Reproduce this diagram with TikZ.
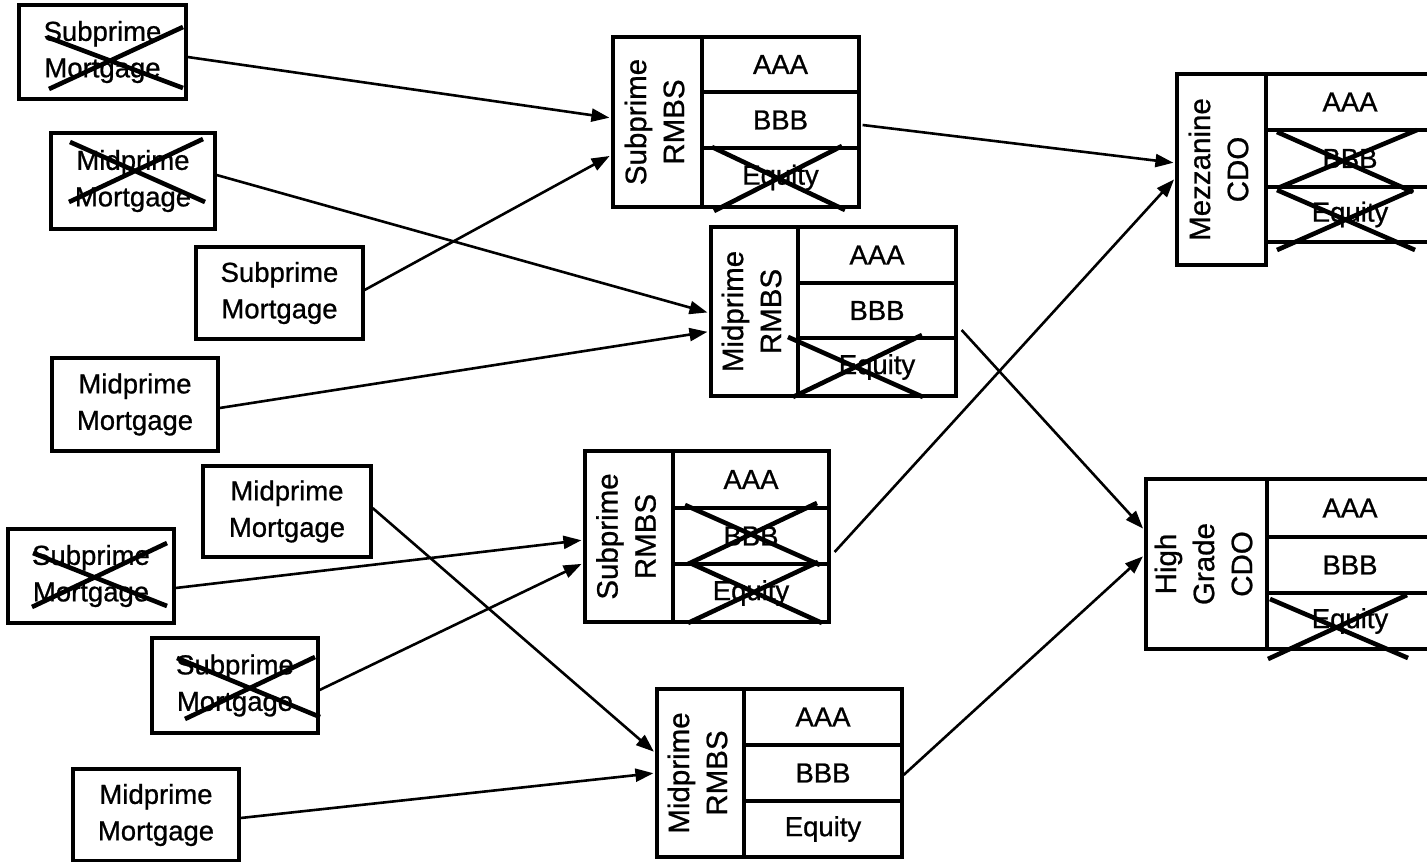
\documentclass[tikz,border=0pt]{standalone}
\usepackage{fontspec}
\setmainfont{Liberation Sans}[FakeBold=0.8]
\usepackage{graphicx}
\usetikzlibrary{arrows.meta}
\begin{document}
\begin{tikzpicture}[x=1pt,y=-1pt,
  box/.style={draw, line width=3.2pt, inner sep=0pt, align=center, font=\fontsize{27.5}{36.5}\selectfont},
  xline/.style={line width=4.6pt},
  arr/.style={line width=2.6pt, -{Triangle[length=18pt,width=13pt]}, shorten >=2pt}]
\useasboundingbox (0,0) rectangle (1427,862);
\clip (0,0) rectangle (1427,862);
\fill[white] (0,0) rectangle (1427,862);
\newcommand\vlab[1]{\rotatebox{90}{\fontsize{29.5}{38}\selectfont\begin{tabular}{@{}c@{}}#1\end{tabular}}}
% ---------- mortgages ----------
\node[box, minimum width=167pt, minimum height=94pt] (L1) at (102.5,52) {Subprime\\Mortgage};
\node[box, minimum width=164pt, minimum height=96pt] (L2) at (133,181) {Midprime\\Mortgage};
\node[box, minimum width=167pt, minimum height=92pt] (L3) at (279.5,293) {Subprime\\Mortgage};
\node[box, minimum width=166pt, minimum height=93pt] (L4) at (135,404.5) {Midprime\\Mortgage};
\node[box, minimum width=168pt, minimum height=91pt] (L5) at (287,511.5) {Midprime\\Mortgage};
\node[box, minimum width=166pt, minimum height=94pt] (L6) at (91,576) {Subprime\\Mortgage};
\node[box, minimum width=166pt, minimum height=95pt] (L7) at (235,685.5) {Subprime\\Mortgage};
\node[box, minimum width=166pt, minimum height=92pt] (L8) at (156,815) {Midprime\\Mortgage};
% ---------- RMBS A ----------
\node[box, minimum width=89pt, minimum height=170pt] (Al) at (657.5,122) {\vlab{Subprime\\RMBS}};
\node[box, minimum width=157pt, minimum height=55pt] (A1) at (780.5,64.5) {AAA};
\node[box, minimum width=157pt, minimum height=56pt] (A2) at (780.5,120) {BBB};
\node[box, minimum width=157pt, minimum height=59pt] (A3) at (780.5,177.5) {Equity};
% ---------- RMBS B ----------
\node[box, minimum width=87pt, minimum height=169pt] (Bl) at (754.5,311.5) {\vlab{Midprime\\RMBS}};
\node[box, minimum width=158pt, minimum height=56pt] (B1) at (877,255) {AAA};
\node[box, minimum width=158pt, minimum height=55pt] (B2) at (877,310.5) {BBB};
\node[box, minimum width=158pt, minimum height=58pt] (B3) at (877,367) {Equity};
% ---------- RMBS C ----------
\node[box, minimum width=88pt, minimum height=171pt] (Cl) at (629,536.5) {\vlab{Subprime\\RMBS}};
\node[box, minimum width=156pt, minimum height=57pt] (C1) at (751,479.5) {AAA};
\node[box, minimum width=156pt, minimum height=56pt] (C2) at (751,536) {BBB};
\node[box, minimum width=156pt, minimum height=58pt] (C3) at (751,593) {Equity};
% ---------- RMBS D ----------
\node[box, minimum width=87pt, minimum height=168pt] (Dl) at (700.5,773) {\vlab{Midprime\\RMBS}};
\node[box, minimum width=158pt, minimum height=56pt] (D1) at (823,717) {AAA};
\node[box, minimum width=158pt, minimum height=56pt] (D2) at (823,773) {BBB};
\node[box, minimum width=158pt, minimum height=56pt] (D3) at (823,829) {Equity};
% ---------- Mezzanine CDO ----------
\node[box, minimum width=89pt, minimum height=191pt] (El) at (1221.5,169.5) {\vlab{Mezzanine\\CDO}};
\node[box, minimum width=168pt, minimum height=56pt] (E1) at (1350,102) {AAA};
\node[box, minimum width=168pt, minimum height=57pt] (E2) at (1350,158.5) {BBB};
\node[box, minimum width=168pt, minimum height=55pt] (E3) at (1350,214.5) {Equity};
% ---------- High Grade CDO ----------
\node[box, minimum width=121pt, minimum height=170pt] (Fl) at (1206.5,564) {\vlab{High\\Grade\\CDO}};
\node[box, minimum width=166pt, minimum height=58pt] (F1) at (1350,508) {AAA};
\node[box, minimum width=166pt, minimum height=56pt] (F2) at (1350,565) {BBB};
\node[box, minimum width=166pt, minimum height=56pt] (F3) at (1350,621) {Equity};
% ---------- crosses ----------
\draw[xline] (47,37) -- (183,88) (49,89) -- (183,27);
\draw[xline] (70,142) -- (205,202) (69,202) -- (203,139);
\draw[xline] (33,553) -- (167,606) (32,607) -- (167,543);
\draw[xline] (177,658) -- (320,717) (185,719) -- (315,657);
\draw[xline] (712,147) -- (845,210) (714,211) -- (842,146);
\draw[xline] (788,337) -- (923,397) (793,397) -- (922,335);
\draw[xline] (685,505) -- (820,565) (688,564) -- (817,503);
\draw[xline] (690,563) -- (822,623) (688,623) -- (818,562);
\draw[xline] (1277,132) -- (1413,192) (1278,188) -- (1417,130);
\draw[xline] (1277,190) -- (1415,250) (1277,250) -- (1413,190);
\draw[xline] (1270,599) -- (1408,658) (1268,659) -- (1407,595);
% ---------- arrows ----------
\draw[arr] ([yshift=-5pt]L1.east) -- ([yshift=4pt]Al.west);
\draw[arr] ([yshift=3pt]L3.east) -- ([yshift=-33pt]Al.west);
\draw[arr] ([yshift=6pt]L2.east) -- ([yshift=-1.5pt]Bl.west);
\draw[arr] ([yshift=-3.5pt]L4.east) -- ([yshift=-20pt]Bl.west);
\draw[arr] ([yshift=3.5pt]L5.east) -- ([yshift=20pt]Dl.west);
\draw[arr] ([yshift=-3pt]L8.east) -- (Dl.west);
\draw[arr] ([yshift=-12pt]L6.east) -- ([yshift=-3.5pt]Cl.west);
\draw[arr] ([yshift=-4.5pt]L7.east) -- ([yshift=-26.5pt]Cl.west);
\draw[arr] ([xshift=2pt,yshift=-5pt]A2.east) -- ([yshift=6.5pt]El.west);
\draw[arr] ([xshift=4pt,yshift=-16pt]C2.east) -- ([yshift=-8.5pt]El.west);
\draw[arr] ([xshift=4pt,yshift=-19.5pt]B2.east) -- ([yshift=34pt]Fl.west);
\draw[arr] ([yshift=-2pt]D2.east) -- ([yshift=9pt]Fl.west);
\end{tikzpicture}
\end{document}
